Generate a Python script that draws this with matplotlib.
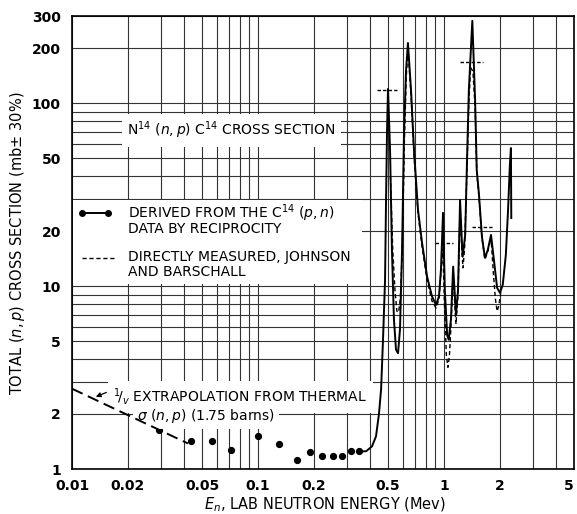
import matplotlib
matplotlib.use("Agg")
import matplotlib.pyplot as plt
from matplotlib.ticker import FixedLocator, FixedFormatter, LogLocator, NullFormatter
from matplotlib.patches import Rectangle
from matplotlib.lines import Line2D

# derived from C14(p,n) by reciprocity - isolated points at low energy
dots_e = [0.0294, 0.0436, 0.0566, 0.0716, 0.100, 0.130, 0.162, 0.190, 0.221, 0.253, 0.283, 0.316, 0.349]
dots_s = [1.63, 1.42, 1.42, 1.27, 1.51, 1.37, 1.12, 1.24, 1.18, 1.18, 1.18, 1.25, 1.25]

# derived curve (solid)
solid_e = [0.349, 0.381, 0.410, 0.431, 0.447, 0.459, 0.470, 0.482, 0.488, 0.494, 0.500,
           0.513, 0.525, 0.538, 0.552, 0.566, 0.580, 0.595, 0.610, 0.625, 0.640,
           0.665, 0.690, 0.725, 0.762, 0.811, 0.862, 0.906, 0.940, 0.963, 0.988,
           1.01, 1.04, 1.06, 1.09, 1.12, 1.16, 1.19, 1.22, 1.25, 1.26, 1.30,
           1.33, 1.36, 1.42, 1.47, 1.50, 1.54, 1.60, 1.66, 1.72, 1.79, 1.86,
           1.93, 2.00, 2.07, 2.15, 2.21, 2.26, 2.29, 2.30]
solid_s = [1.25, 1.25, 1.33, 1.51, 2.0, 2.73, 5.1, 10.8, 29.6, 71, 120,
           55, 15.8, 6.6, 4.5, 4.3, 5.8, 15.8, 71, 151, 214,
           118, 55, 26.1, 17.3, 11.3, 8.8, 7.9, 8.8, 12.3, 25.2,
           9.6, 5.4, 5.1, 6.6, 12.8, 7.0, 9.6, 29.6, 16.8, 14.5, 19.1,
           48.9, 118, 283, 104, 43, 32.3, 18.6, 14.3, 15.8, 19.1, 13.6,
           9.8, 9.2, 10.2, 14.8, 26.1, 45.9, 57, 23.6]

# directly measured, Johnson and Barschall (dashed)
meas_e = [0.515, 0.530, 0.545, 0.558, 0.570, 0.582, 0.597, 0.612, 0.627, 0.640,
          0.665, 0.690, 0.725, 0.762, 0.811, 0.862, 0.906, 0.940, 0.963, 0.985,
          1.01, 1.03, 1.05, 1.07, 1.09, 1.12, 1.16, 1.19, 1.22, 1.25, 1.265,
          1.29, 1.33, 1.36, 1.39, 1.43, 1.47, 1.50, 1.54, 1.60, 1.66, 1.72,
          1.79, 1.84, 1.89, 1.93, 1.97, 2.03]
meas_s = [40, 16, 9.5, 7.3, 7.2, 8.5, 16, 60, 140, 200,
          110, 52, 25, 16.5, 10.8, 8.3, 7.6, 8.5, 12, 16,
          7, 4.2, 3.6, 4.2, 6.0, 11, 6.2, 9, 27, 15, 12.6,
          16, 45, 100, 157, 150, 95, 42, 31, 18.3, 14, 15.5,
          18.5, 12, 8.5, 7.3, 7.8, 9.6]

# 1/v extrapolation from thermal
extrap_e = [0.01, 0.042]
extrap_s = [2.75, 1.38]

# averaged cross-section bars
bar_lo = [0.436, 0.895, 1.22, 1.42]
bar_hi = [0.559, 1.12, 1.62, 1.81]
bar_s = [118, 17.2, 169, 21.1]

xticks = [0.01, 0.02, 0.05, 0.1, 0.2, 0.5, 1, 2, 5]
xlabels = ["0.01", "0.02", "0.05", "0.1", "0.2", "0.5", "1", "2", "5"]
yticks = [1, 2, 5, 10, 20, 50, 100, 200, 300]
ylabels = ["1", "2", "5", "10", "20", "50", "100", "200", "300"]

fig = plt.figure(figsize=(5.77, 5.14), dpi=100)
ax = fig.add_axes([0.1248, 0.0875, 0.870, 0.881])
ax.set_xscale("log")
ax.set_yscale("log")
ax.set_xlim(0.01, 5)
ax.set_ylim(1, 300)

ax.xaxis.set_major_locator(FixedLocator(xticks))
ax.xaxis.set_major_formatter(FixedFormatter(xlabels))
ax.yaxis.set_major_locator(FixedLocator(yticks))
ax.yaxis.set_major_formatter(FixedFormatter(ylabels))
ax.xaxis.set_minor_locator(LogLocator(base=10, subs=range(2, 10)))
ax.yaxis.set_minor_locator(LogLocator(base=10, subs=range(2, 10)))
ax.xaxis.set_minor_formatter(NullFormatter())
ax.yaxis.set_minor_formatter(NullFormatter())
ax.tick_params(which="both", length=0)
ax.tick_params(axis="x", pad=7)
ax.tick_params(axis="y", pad=8)
for lab in ax.get_xticklabels() + ax.get_yticklabels():
    lab.set_fontsize(10)
    lab.set_fontweight("bold")
ax.get_xticklabels()[-1].set_horizontalalignment("right")
ax.set_axisbelow(True)
ax.grid(which="both", color="#333333", linewidth=0.8)
for sp in ax.spines.values():
    sp.set_linewidth(1.2)

# white area behind the key
ax.add_patch(Rectangle((0.002, 0.408), 0.576, 0.187, transform=ax.transAxes,
                       facecolor="white", edgecolor="none", zorder=1))

ax.plot(dots_e, dots_s, "o", color="black", markersize=4.2, zorder=3)
ax.plot(solid_e, solid_s, color="black", linewidth=1.4, zorder=3)
ax.plot(meas_e, meas_s, color="black", linewidth=1.0, dashes=(3, 2), zorder=3)
ax.plot(extrap_e, extrap_s, color="black", linewidth=1.4, dashes=(6, 3), zorder=6)
for lo, hi, s in zip(bar_lo, bar_hi, bar_s):
    ax.plot([lo, hi], [s, s], color="black", linewidth=1.0, dashes=(2.5, 1.5), zorder=3)

# key
ax.add_line(Line2D([0.02, 0.072], [0.565, 0.565], transform=ax.transAxes, color="black",
                   linewidth=1.4, marker="o", markersize=4, zorder=4))
ax.add_line(Line2D([0.02, 0.085], [0.466, 0.466], transform=ax.transAxes, color="black",
                   linewidth=1.0, dashes=(3, 2), zorder=4))
ax.text(0.111, 0.565, "DERIVED FROM THE C$^{14}$ $(p,n)$", transform=ax.transAxes,
        fontsize=10, va="center", ha="left", zorder=4)
ax.text(0.111, 0.529, "DATA BY RECIPROCITY", transform=ax.transAxes,
        fontsize=10, va="center", ha="left", zorder=4)
ax.text(0.111, 0.468, "DIRECTLY MEASURED, JOHNSON", transform=ax.transAxes,
        fontsize=10, va="center", ha="left", zorder=4)
ax.text(0.111, 0.434, "AND BARSCHALL", transform=ax.transAxes,
        fontsize=10, va="center", ha="left", zorder=4)

box = dict(facecolor="white", edgecolor="none", pad=4)
ax.text(0.110, 0.748, "N$^{14}$ $(n,p)$ C$^{14}$ CROSS SECTION", transform=ax.transAxes,
        fontsize=10, va="center", ha="left", bbox=box, zorder=4)
ax.text(0.082, 0.160, r"$^{1}\!/_{v}$ EXTRAPOLATION FROM THERMAL", transform=ax.transAxes,
        fontsize=10, va="center", ha="left", bbox=box, zorder=4)
ax.text(0.129, 0.117, r"$\sigma$ $(n,p)$ (1.75 barns)", transform=ax.transAxes,
        fontsize=10, va="center", ha="left", bbox=dict(facecolor="white", edgecolor="none", pad=3),
        zorder=4)
ax.annotate("", xy=(0.013, 2.45), xytext=(0.0158, 2.66),
            arrowprops=dict(arrowstyle="-|>", color="black", lw=0.9, mutation_scale=7), zorder=6)

fig.text(0.030, 0.527, "TOTAL $(n,p)$ CROSS SECTION (mb$\\pm$ 30%)", rotation=90,
         fontsize=10.5, ha="center", va="center")
fig.text(0.563, 0.018, "$E_n$, LAB NEUTRON ENERGY (Mev)", fontsize=10.5,
         ha="center", va="center")

fig.savefig("out.png", dpi=100)
